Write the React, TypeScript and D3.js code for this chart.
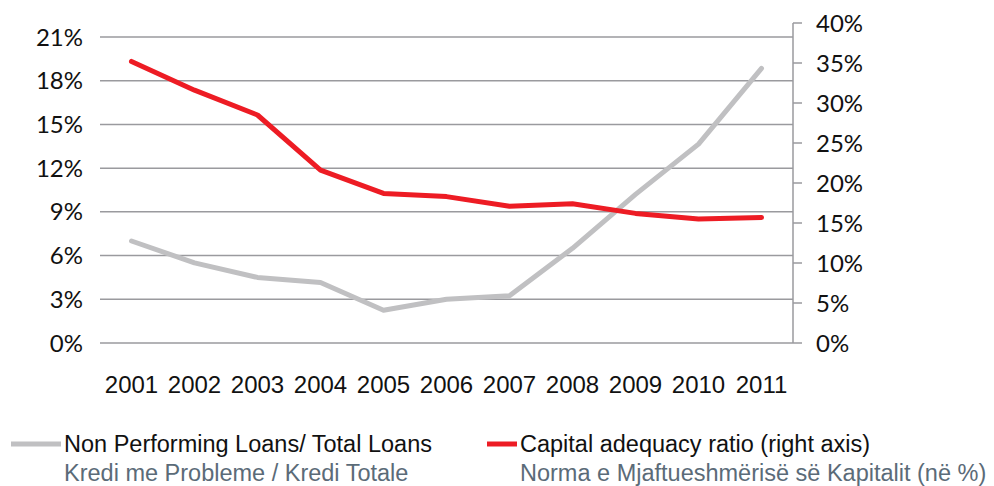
import { useEffect, useRef } from "react";
import * as d3 from "d3";

const years = ["2001", "2002", "2003", "2004", "2005", "2006", "2007", "2008", "2009", "2010", "2011"];
// Non Performing Loans / Total Loans (left axis, %)
const nplValues = [7.0, 5.5, 4.5, 4.15, 2.25, 3.0, 3.25, 6.5, 10.2, 13.65, 18.85];
// Capital adequacy ratio (right axis, %)
const carValues = [35.2, 31.6, 28.5, 21.6, 18.7, 18.3, 17.1, 17.4, 16.2, 15.5, 15.7];
const leftTicks = [0, 3, 6, 9, 12, 15, 18, 21];
const rightTicks = [0, 5, 10, 15, 20, 25, 30, 35, 40];

const W = 994;
const H = 486;

const App = () => {
  const svgRef = useRef<SVGSVGElement | null>(null);

  useEffect(() => {
    if (!svgRef.current) return;
    const svg = d3.select(svgRef.current);
    svg.selectAll("*").remove();

    const left = 100;
    const right = 793;
    const bottom = 343;

    const x = d3.scaleBand<string>().domain(years).range([left, right]);
    const yL = d3.scaleLinear().domain([0, 21]).range([bottom, 37]);
    const yR = d3.scaleLinear().domain([0, 40]).range([bottom, 23]);
    const cx = (d: string) => (x(d) as number) + x.bandwidth() / 2;

    // gridlines (left axis)
    svg
      .append("g")
      .selectAll("line")
      .data(leftTicks)
      .join("line")
      .attr("x1", left)
      .attr("x2", right)
      .attr("y1", (d) => yL(d))
      .attr("y2", (d) => yL(d))
      .attr("stroke", "#9a9a9e")
      .attr("stroke-width", 1.5);

    // left tick labels
    svg
      .append("g")
      .selectAll("text")
      .data(leftTicks)
      .join("text")
      .attr("x", 83)
      .attr("y", (d) => yL(d))
      .attr("dy", "0.36em")
      .attr("text-anchor", "end")
      .attr("font-family", "Lato, 'DejaVu Sans', sans-serif")
      .attr("font-size", 24)
      .attr("fill", "#111")
      .text((d) => `${d}%`);

    // right axis
    const rAxis = svg.append("g").attr("transform", `translate(${right},0)`);
    rAxis
      .append("line")
      .attr("x1", 0)
      .attr("x2", 0)
      .attr("y1", yR(40))
      .attr("y2", bottom)
      .attr("stroke", "#9a9a9e")
      .attr("stroke-width", 1.5);
    rAxis
      .selectAll("line.tick")
      .data(rightTicks)
      .join("line")
      .attr("class", "tick")
      .attr("x1", 0)
      .attr("x2", 9)
      .attr("y1", (d) => yR(d))
      .attr("y2", (d) => yR(d))
      .attr("stroke", "#9a9a9e")
      .attr("stroke-width", 1.5);
    rAxis
      .selectAll("text")
      .data(rightTicks)
      .join("text")
      .attr("x", 23)
      .attr("y", (d) => yR(d))
      .attr("dy", "0.36em")
      .attr("font-family", "Lato, 'DejaVu Sans', sans-serif")
      .attr("font-size", 24)
      .attr("fill", "#111")
      .text((d) => `${d}%`);

    // x labels
    svg
      .append("g")
      .selectAll("text")
      .data(years)
      .join("text")
      .attr("x", (d) => cx(d))
      .attr("y", 393)
      .attr("text-anchor", "middle")
      .attr("font-family", "'Liberation Sans', Arial, sans-serif")
      .attr("font-size", 24)
      .attr("fill", "#111")
      .text((d) => d);

    // lines
    const lineL = d3
      .line<number>()
      .x((_, i) => cx(years[i]))
      .y((d) => yL(d));
    const lineR = d3
      .line<number>()
      .x((_, i) => cx(years[i]))
      .y((d) => yR(d));

    svg
      .append("path")
      .datum(nplValues)
      .attr("fill", "none")
      .attr("stroke", "#c0c0c2")
      .attr("stroke-width", 5)
      .attr("stroke-linecap", "round")
      .attr("stroke-linejoin", "round")
      .attr("d", lineL);

    svg
      .append("path")
      .datum(carValues)
      .attr("fill", "none")
      .attr("stroke", "#ed1c24")
      .attr("stroke-width", 5)
      .attr("stroke-linecap", "round")
      .attr("stroke-linejoin", "round")
      .attr("d", lineR);

    // legend
    const legend = [
      { x: 11, len: 50, color: "#c0c0c2", en: "Non Performing Loans/ Total Loans", sq: "Kredi me Probleme / Kredi Totale" },
      { x: 487, len: 30, color: "#ed1c24", en: "Capital adequacy ratio (right axis)", sq: "Norma e Mjaftueshmërisë së Kapitalit (në %)" },
    ];
    const lg = svg
      .append("g")
      .selectAll("g")
      .data(legend)
      .join("g")
      .attr("transform", (d) => `translate(${d.x},0)`);
    lg.append("line")
      .attr("x1", 0)
      .attr("x2", (d) => d.len)
      .attr("y1", 444)
      .attr("y2", 444)
      .attr("stroke", (d) => d.color)
      .attr("stroke-width", 5);
    lg.append("text")
      .attr("x", (d) => d.len + 3)
      .attr("y", 452)
      .attr("font-family", "'Liberation Sans', Arial, sans-serif")
      .attr("font-size", 23.5)
      .attr("fill", "#111")
      .text((d) => d.en);
    lg.append("text")
      .attr("x", (d) => d.len + 3)
      .attr("y", 481)
      .attr("font-family", "'Liberation Sans', Arial, sans-serif")
      .attr("font-size", 23.5)
      .attr("fill", "#5b6b78")
      .text((d) => d.sq);
  }, []);

  return (
    <svg
      ref={svgRef}
      width={W}
      height={H}
      style={{ position: "absolute", left: 0, top: 0, background: "#fff" }}
    />
  );
};

export default App;
